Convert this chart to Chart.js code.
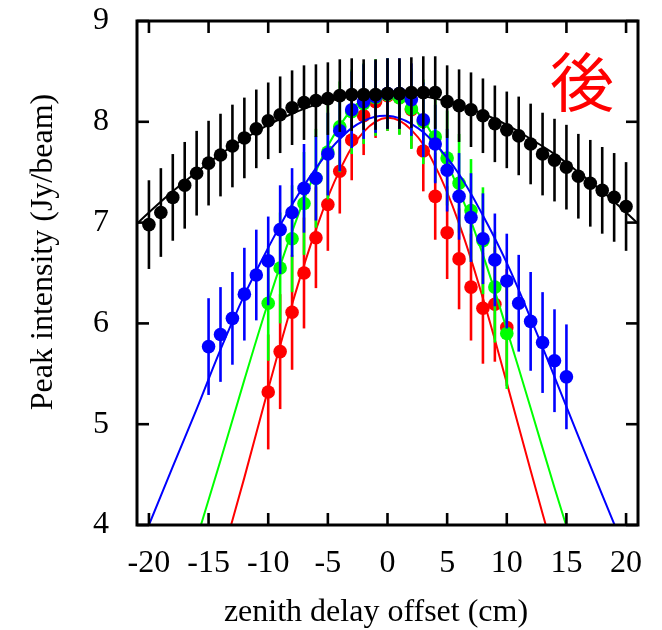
<!DOCTYPE html>
<html>
<head>
<meta charset="utf-8">
<script src="https://cdn.jsdelivr.net/npm/chart.js@4"></script>
<style>
  body { margin: 0; background: #fff; }
</style>
</head>
<body>
<canvas id="chart" width="662" height="630"></canvas>
<script>
// tick positions
const xTicks = [-20, -15, -10, -5, 0, 5, 10, 15, 20];
const yTicks = [4, 5, 6, 7, 8, 9];

// black: measured points (-20..20 cm)
const blackX = [-20, -19, -18, -17, -16, -15, -14, -13, -12, -11, -10, -9, -8, -7, -6, -5, -4, -3, -2, -1, 0,
                 1, 2, 3, 4, 5, 6, 7, 8, 9, 10, 11, 12, 13, 14, 15, 16, 17, 18, 19, 20];
const blackY = [6.98, 7.10, 7.25, 7.37, 7.49, 7.59, 7.67, 7.76, 7.84, 7.93, 8.01, 8.07, 8.14, 8.19, 8.21, 8.23, 8.26, 8.27, 8.27, 8.27, 8.28,
                8.28, 8.29, 8.29, 8.29, 8.20, 8.16, 8.12, 8.06, 7.98, 7.92, 7.86, 7.78, 7.68, 7.62, 7.55, 7.46, 7.39, 7.32, 7.25, 7.16];
const blackErr = [0.44, 0.44, 0.43, 0.43, 0.42, 0.42, 0.41, 0.41, 0.40, 0.39, 0.38, 0.38, 0.37, 0.37, 0.36, 0.36, 0.36, 0.36, 0.35, 0.35, 0.35,
                  0.35, 0.35, 0.36, 0.36, 0.36, 0.36, 0.37, 0.37, 0.38, 0.38, 0.39, 0.40, 0.41, 0.41, 0.42, 0.42, 0.43, 0.43, 0.44, 0.44];

// blue (-15..15)
const blueX = [-15, -14, -13, -12, -11, -10, -9, -8, -7, -6, -5, -4, -3, -2, -1, 0, 1, 2, 3, 4, 5, 6, 7, 8, 9, 10, 11, 12, 13, 14, 15];
const blueY = [5.77, 5.89, 6.05, 6.29, 6.48, 6.62, 6.93, 7.10, 7.34, 7.44, 7.68, 7.91, 8.12, 8.20, 8.25, 8.28,
               8.28, 8.22, 8.02, 7.78, 7.52, 7.26, 7.05, 6.84, 6.63, 6.42, 6.20, 6.02, 5.81, 5.63, 5.47];
const blueErr = [0.48, 0.47, 0.46, 0.46, 0.45, 0.44, 0.44, 0.44, 0.44, 0.42, 0.41, 0.40, 0.38, 0.37, 0.36, 0.35,
                 0.35, 0.36, 0.37, 0.39, 0.41, 0.43, 0.44, 0.45, 0.46, 0.47, 0.48, 0.49, 0.50, 0.51, 0.52];

// green (-10..10)
const greenX = [-10, -9, -8, -7, -6, -5, -4, -3, -2, -1, 0, 1, 2, 3, 4, 5, 6, 7, 8, 9, 10];
const greenY = [6.20, 6.55, 6.84, 7.19, 7.44, 7.70, 7.95, 8.10, 8.18, 8.24, 8.27, 8.24, 8.13, 8.00, 7.85, 7.64, 7.39, 7.12, 6.82, 6.36, 5.90];
const greenErr = [0.57, 0.55, 0.53, 0.51, 0.49, 0.47, 0.45, 0.42, 0.40, 0.38, 0.36, 0.37, 0.40, 0.42, 0.45, 0.47, 0.49, 0.51, 0.53, 0.55, 0.55];

// red (-10..10)
const redX = [-10, -9, -8, -7, -6, -5, -4, -3, -2, -1, 0, 1, 2, 3, 4, 5, 6, 7, 8, 9, 10];
const redY = [5.32, 5.72, 6.11, 6.50, 6.85, 7.18, 7.51, 7.82, 8.06, 8.20, 8.26, 8.24, 8.12, 7.71, 7.26, 6.90, 6.64, 6.36, 6.15, 6.19, 5.96];
const redErr = [0.57, 0.57, 0.57, 0.55, 0.50, 0.46, 0.42, 0.40, 0.39, 0.36, 0.35, 0.36, 0.38, 0.40, 0.43, 0.46, 0.50, 0.53, 0.55, 0.57, 0.58];

// fitted curves
const blackFitX = [-21, -20, -18, -16, -14, -12, -10, -8, -6, -4, -2, 0, 2, 4, 6, 8, 10, 12, 14, 16, 18, 20, 21];
const blackFitY = [6.99, 7.10, 7.31, 7.50, 7.68, 7.83, 7.97, 8.08, 8.17, 8.23, 8.27, 8.28, 8.27, 8.23, 8.17, 8.08, 7.97, 7.83, 7.68, 7.50, 7.31, 7.10, 6.99];
const blueFitX = [-20, -18, -16, -14, -12, -10, -8, -6, -4, -2, 0, 2, 4, 6, 8, 10, 12, 14, 16, 18, 20];
const blueFitY = [4.00, 4.58, 5.15, 5.74, 6.28, 6.75, 7.18, 7.54, 7.83, 8.01, 8.06, 7.98, 7.78, 7.48, 7.07, 6.60, 6.05, 5.47, 4.88, 4.30, 3.72];
const greenFitX = [-16, -14, -12, -10, -8, -6, -4, -2, 0, 2, 4, 6, 8, 10, 12, 14, 16];
const greenFitY = [3.86, 4.64, 5.44, 6.21, 6.91, 7.51, 7.96, 8.23, 8.30, 8.16, 7.82, 7.32, 6.68, 5.94, 5.16, 4.37, 3.61];
const redFitX = [-14, -12, -10, -8, -6, -4, -2, 0, 2, 4, 6, 8, 10, 12, 14];
const redFitY = [3.63, 4.47, 5.35, 6.19, 6.93, 7.52, 7.90, 8.04, 7.92, 7.56, 6.99, 6.25, 5.41, 4.54, 3.69];

const xy = (xs, ys) => xs.map((v, i) => ({x: v, y: ys[i]}));

const pts = (data, errors, color, order) => ({
    data: data, errors: errors, order: order,
    backgroundColor: color, borderColor: color,
    pointRadius: 6.8, pointBorderWidth: 0, showLine: false
});
const fit = (data, color, order) => ({
    data: data, order: order, showLine: true,
    borderColor: color, backgroundColor: color,
    borderWidth: 2, pointRadius: 0, tension: 0.4, fill: false
});

const serif = "'Liberation Serif', 'Times New Roman', serif";

// error bars drawn right under their own points
const errorBars = {
    id: 'errorBars',
    beforeDatasetDraw(chart, args) {
        const ds = chart.data.datasets[args.index];
        if (!ds.errors) return;
        const {ctx, chartArea: a, scales: {x, y}} = chart;
        ctx.save();
        ctx.beginPath();
        ctx.rect(a.left, a.top, a.right - a.left, a.bottom - a.top);
        ctx.clip();
        ctx.strokeStyle = ds.backgroundColor;
        ctx.lineWidth = 2.6;
        ds.data.forEach((p, i) => {
            const px = x.getPixelForValue(p.x);
            ctx.beginPath();
            ctx.moveTo(px, y.getPixelForValue(p.y - ds.errors[i]));
            ctx.lineTo(px, y.getPixelForValue(p.y + ds.errors[i]));
            ctx.stroke();
        });
        ctx.restore();
    }
};

// box, inward ticks on all sides, titles and the label
const frame = {
    id: 'frame',
    afterDraw(chart) {
        const {ctx, chartArea: a, scales: {x, y}} = chart;
        const seg = (x1, y1, x2, y2) => { ctx.beginPath(); ctx.moveTo(x1, y1); ctx.lineTo(x2, y2); ctx.stroke(); };
        ctx.save();
        ctx.strokeStyle = '#000';
        ctx.lineWidth = 2.6;
        xTicks.forEach(v => {
            const px = x.getPixelForValue(v);
            seg(px, a.bottom, px, a.bottom - 12);
            seg(px, a.top, px, a.top + 12);
        });
        yTicks.forEach(v => {
            const py = y.getPixelForValue(v);
            seg(a.left, py, a.left + 12, py);
            seg(a.right, py, a.right - 12, py);
        });
        ctx.lineWidth = 3;
        ctx.strokeRect(a.left, a.top, a.right - a.left, a.bottom - a.top);

        ctx.fillStyle = '#000';
        ctx.font = '32px ' + serif;
        ctx.textAlign = 'center';
        ctx.textBaseline = 'alphabetic';
        ctx.fillText('zenith delay offset (cm)', 376, 621);

        ctx.save();
        ctx.translate(52, 252);
        ctx.rotate(-Math.PI / 2);
        ctx.fillText('Peak intensity (Jy/beam)', 0, 0);
        ctx.restore();

        ctx.fillStyle = '#ff0000';
        ctx.font = "64px 'Noto Sans CJK JP'";
        ctx.textBaseline = 'middle';
        ctx.fillText('後', 582, 82);
        ctx.restore();
    }
};

new Chart(document.getElementById('chart'), {
    type: 'scatter',
    data: {
        datasets: [
            fit(xy(blackFitX, blackFitY), '#000000', 0),
            pts(xy(blackX, blackY), blackErr, '#000000', 1),
            fit(xy(blueFitX, blueFitY), '#0000ff', 2),
            pts(xy(blueX, blueY), blueErr, '#0000ff', 3),
            fit(xy(greenFitX, greenFitY), '#00ff00', 4),
            pts(xy(greenX, greenY), greenErr, '#00ff00', 5),
            fit(xy(redFitX, redFitY), '#ff0000', 6),
            pts(xy(redX, redY), redErr, '#ff0000', 7)
        ]
    },
    options: {
        responsive: false,
        animation: false,
        layout: { padding: { top: 21, right: 24, left: 0, bottom: 0 } },
        plugins: { legend: { display: false }, tooltip: { enabled: false } },
        scales: {
            x: {
                type: 'linear', min: -21, max: 21,
                grid: { display: false, drawTicks: false },
                border: { display: false },
                afterBuildTicks: s => { s.ticks = xTicks.map(v => ({value: v})); },
                afterFit: s => { s.height = 105; s.paddingLeft = 0; s.paddingRight = 0; },
                ticks: { color: '#000', padding: 19, maxRotation: 0, autoSkip: false, font: { family: serif, size: 32 } }
            },
            y: {
                type: 'linear', min: 4, max: 9,
                grid: { display: false, drawTicks: false },
                border: { display: false },
                afterBuildTicks: s => { s.ticks = yTicks.map(v => ({value: v})); },
                afterFit: s => { s.width = 137; s.paddingTop = 0; s.paddingBottom = 0; },
                ticks: { color: '#000', padding: 28, font: { family: serif, size: 32 } }
            }
        }
    },
    plugins: [errorBars, frame]
});
</script>
</body>
</html>
